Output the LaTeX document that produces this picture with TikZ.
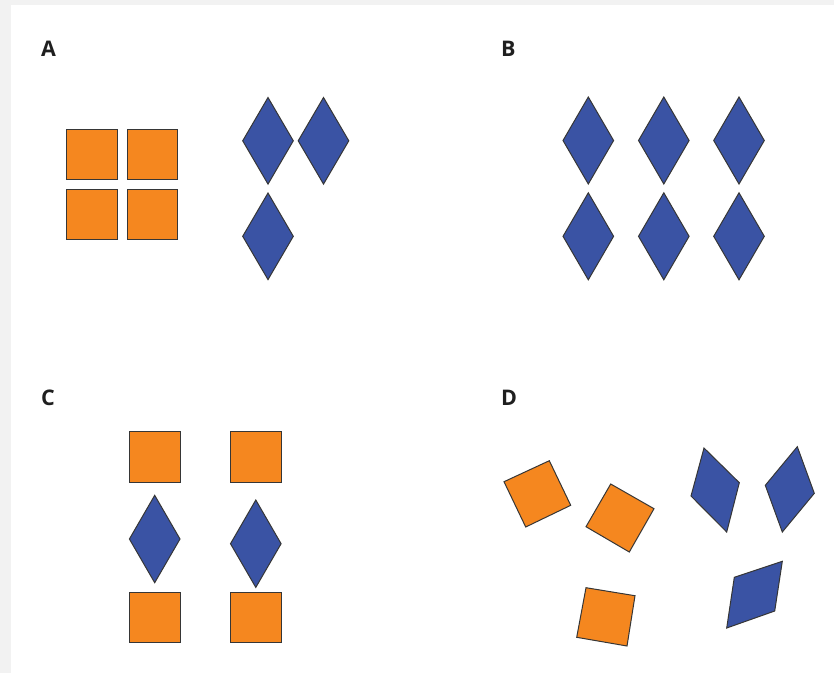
\documentclass[tikz,border=0pt]{standalone}
\usepackage{fontspec}
\setmainfont{Open Sans}
\definecolor{bgray}{HTML}{F2F2F2}
\definecolor{org}{HTML}{F5871F}
\definecolor{blu}{HTML}{3A53A4}
\definecolor{edge}{HTML}{363636}
\tikzset{
  sq/.style={fill=org,draw=edge,line width=1pt,line join=miter},
  dm/.style={fill=blu,draw=edge,line width=1pt,line join=miter},
  lbl/.style={anchor=base west,inner sep=0pt,font=\fontsize{21.5}{25}\selectfont\bfseries,text=black!88}
}
\newcommand{\dmdshape}[3]{\draw[dm,shift={(#1,#2)}] (-25.3,0) -- (0,-#3) -- (25.3,0) -- (0,#3) -- cycle;}
\begin{document}
\begin{tikzpicture}[x=1pt,y=-1pt]
\useasboundingbox (0,0) rectangle (834,673);
\fill[bgray] (0,0) rectangle (834,673);
\fill[white] (11,5) rectangle (834,673);
% labels
\node[lbl] (la) at (41,56) {A};
\node[lbl] (lb) at (501,56) {B};
\node[lbl] (lc) at (41,405) {C};
\node[lbl] (ld) at (501,405) {D};
% Panel A
\draw[sq] (66.7,129) rectangle (117.3,179);
\draw[sq] (127,129) rectangle (177.7,179);
\draw[sq] (66.7,189) rectangle (117.3,239);
\draw[sq] (127,189) rectangle (177.7,239);
\dmdshape{268}{140.8}{43.3}
\dmdshape{323.5}{140.8}{43.3}
\dmdshape{268}{236.3}{43.3}
% Panel B
\dmdshape{588.3}{140.5}{43.5}
\dmdshape{663.8}{140.5}{43.5}
\dmdshape{739}{140.5}{43.5}
\dmdshape{588.3}{236.3}{43.5}
\dmdshape{663.8}{236.3}{43.5}
\dmdshape{739}{236.3}{43.5}
% Panel C
\draw[sq] (129.3,431.7) rectangle (180,482.3);
\draw[sq] (230,431.7) rectangle (281.7,482.3);
\draw[sq] (129.3,592.3) rectangle (180,642.7);
\draw[sq] (230,592.3) rectangle (281.7,642.7);
\dmdshape{154.7}{539}{43.7}
\dmdshape{255.8}{543.7}{43.7}
% Panel D
\draw[sq] (504,481.7) -- (549.3,460.7) -- (570.7,505.3) -- (525.7,527) -- cycle;
\draw[sq] (586,526.7) -- (610.7,484) -- (654,508.7) -- (629.3,552) -- cycle;
\draw[sq] (586,587.7) -- (635,595.7) -- (627,646) -- (576.7,637.3) -- cycle;
\draw[dm] (704,448) -- (739.3,482.7) -- (726.7,532) -- (691,496) -- cycle;
\draw[dm] (797.3,446.7) -- (814.3,493.3) -- (782.3,532) -- (765.3,485.3) -- cycle;
\draw[dm] (782.3,561.3) -- (774.7,611) -- (726.7,628) -- (734.3,577.3) -- cycle;
\end{tikzpicture}
\end{document}
